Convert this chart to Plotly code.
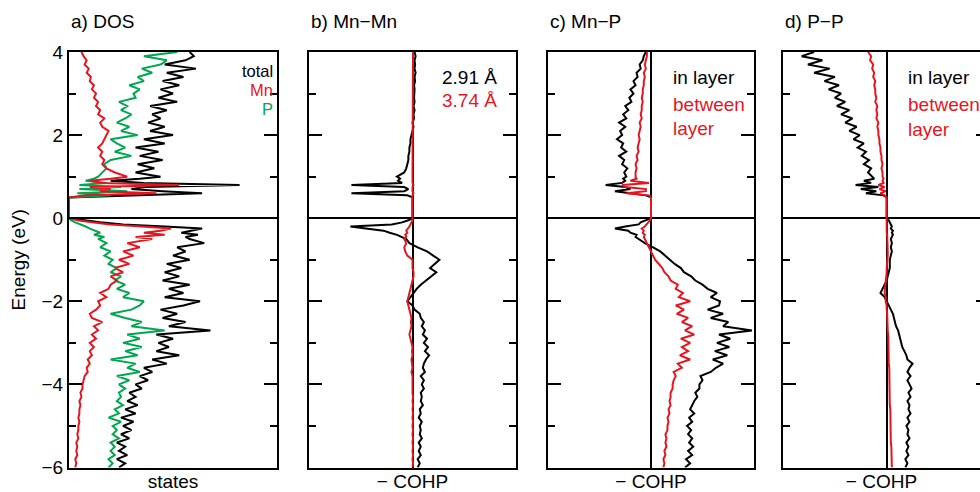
import plotly.graph_objects as go

W, H = 980, 492

# energy grid (eV)
E = [-6.0, -5.9, -5.8, -5.7, -5.6, -5.5, -5.4, -5.3, -5.2, -5.1,
     -5.0, -4.9, -4.8, -4.7, -4.6, -4.5, -4.4, -4.3, -4.2, -4.1,
     -4.0, -3.9, -3.8, -3.7, -3.6, -3.5, -3.4, -3.3, -3.2, -3.1,
     -3.0, -2.9, -2.8, -2.7, -2.6, -2.5, -2.4, -2.3, -2.2, -2.1,
     -2.0, -1.9, -1.8, -1.7, -1.6, -1.5, -1.4, -1.3, -1.2, -1.1,
     -1.0, -0.9, -0.8, -0.7, -0.6, -0.5,
     -0.45, -0.4, -0.35, -0.3, -0.25, -0.2, -0.15, -0.1, -0.05, 0.0,
     0.5, 0.55, 0.6, 0.65, 0.7, 0.75, 0.8, 0.85, 0.9, 0.95, 1.0,
     1.1, 1.2, 1.3, 1.4, 1.5, 1.6, 1.7, 1.8, 1.9, 2.0,
     2.1, 2.2, 2.3, 2.4, 2.5, 2.6, 2.7, 2.8, 2.9, 3.0,
     3.1, 3.2, 3.3, 3.4, 3.5, 3.6, 3.7, 3.8, 3.9, 4.0]

# a) DOS (states, arbitrary units)
dos_total = [2.4, 2.7, 2.3, 2.8, 2.4, 2.7, 2.3, 2.9, 2.5, 3.0,
             2.6, 3.1, 2.5, 3.2, 2.7, 3.3, 2.8, 3.2, 2.9, 3.5,
             3.2, 3.8, 3.4, 4.0, 3.6, 4.7, 4.0, 5.3, 4.2, 4.8,
             4.3, 5.0, 4.2, 6.8, 4.8, 5.6, 4.5, 5.2, 4.4, 5.5,
             6.3, 4.6, 5.5, 4.8, 5.8, 4.5, 5.3, 4.6, 5.4, 4.7,
             5.8, 5.0, 5.6, 5.2, 6.5, 5.8,
             5.6, 6.2, 5.4, 6.0, 6.4, 4.6, 2.6, 1.5, 0.6, 0.0,
             0.0, 3.0, 6.4, 4.5, 3.0, 3.7, 8.2, 3.6, 2.0, 3.4, 4.4,
             3.2, 4.1, 3.3, 4.5, 3.4, 4.3, 3.2, 4.6, 3.6, 5.0,
             3.9, 4.6, 3.8, 4.4, 4.0, 4.7, 3.9, 5.2, 4.3, 5.0,
             4.4, 5.3, 4.5, 5.5, 4.7, 6.1, 4.6, 5.6, 6.0, 5.8]
dos_mn = [0.3, 0.35, 0.3, 0.4, 0.35, 0.4, 0.35, 0.45, 0.4, 0.45,
          0.45, 0.5, 0.45, 0.5, 0.5, 0.55, 0.5, 0.6, 0.55, 0.65,
          0.65, 0.7, 0.75, 0.9, 0.85, 1.0, 0.9, 1.1, 1.0, 1.2,
          1.0, 1.3, 1.1, 1.4, 1.2, 1.6, 1.1, 1.0, 1.3, 1.5,
          1.4, 1.8, 1.5, 1.9, 2.0, 2.3, 2.0, 2.6, 2.2, 2.9,
          2.4, 3.1, 2.6, 3.4, 2.8, 4.0,
          3.2, 4.6, 3.6, 4.4, 4.9, 3.5, 2.0, 1.1, 0.4, 0.0,
          0.0, 0.8, 4.2, 1.5, 2.0, 1.0, 5.3, 1.6, 1.0, 2.0, 2.8,
          2.2, 1.8, 1.6, 1.7, 1.5, 1.6, 1.4, 1.6, 1.7, 1.8,
          1.9, 1.6, 1.5, 1.7, 1.4, 1.5, 1.3, 1.4, 1.2, 1.3,
          1.1, 1.2, 1.0, 1.05, 0.85, 0.95, 0.75, 0.85, 0.7, 0.6]
dos_p = [1.9, 2.1, 1.9, 2.2, 2.0, 2.2, 2.0, 2.4, 2.1, 2.3,
         2.1, 2.5, 1.9, 2.4, 2.2, 2.6, 2.3, 2.5, 2.4, 2.7,
         2.4, 2.9, 2.3, 3.4, 2.8, 3.2, 2.0, 3.3, 2.7, 3.5,
         2.6, 3.4, 2.8, 4.6, 3.0, 3.5, 2.7, 2.0, 3.0, 3.4,
         3.6, 2.6, 2.9, 2.3, 2.7, 2.2, 2.5, 2.0, 2.3, 1.9,
         2.1, 1.7, 2.0, 1.5, 1.8, 1.4,
         1.7, 1.2, 1.5, 1.2, 1.0, 0.8, 0.5, 0.3, 0.1, 0.0,
         0.0, 2.0, 0.4, 2.8, 0.5, 2.5, 0.5, 1.8, 0.8, 1.2, 1.4,
         1.6, 1.8, 1.7, 2.0, 3.0, 2.2, 2.7, 2.3, 2.0, 3.3,
         2.5, 2.9, 2.3, 2.7, 3.0, 2.5, 2.8, 2.4, 3.2, 3.1,
         3.4, 2.9, 3.6, 3.3, 4.0, 3.5, 4.4, 4.7, 3.6, 5.2]

# b) Mn-Mn -COHP
mnmn_291 = [0.05, 0.07, 0.05, 0.08, 0.06, 0.08, 0.06, 0.09, 0.07, 0.08,
            0.07, 0.09, 0.06, 0.08, 0.07, 0.10, 0.08, 0.09, 0.08, 0.11,
            0.09, 0.11, 0.08, 0.12, 0.10, 0.11, 0.13, 0.16, 0.12, 0.15,
            0.11, 0.14, 0.10, 0.12, 0.09, 0.11, 0.08, 0.07, 0.02, 0.0,
            -0.05, -0.02, 0.01, 0.04, 0.08, 0.13, 0.18, 0.23, 0.17, 0.21,
            0.26, 0.20, 0.14, 0.05, -0.03, -0.06,
            -0.10, -0.15, -0.22, -0.28, -0.45, -0.60, -0.20, -0.10, -0.04, 0.0,
            0.0, -0.05, -0.59, -0.08, -0.04, -0.08, -0.59, -0.10, -0.14, -0.12, -0.15,
            -0.08, -0.06, -0.05, -0.04, -0.04, -0.03, -0.03, -0.02, -0.02, -0.01,
            0.0, 0.01, 0.0, 0.015, 0.01, 0.02, 0.01, 0.02, 0.015, 0.02,
            0.02, 0.015, 0.025, 0.02, 0.03, 0.02, 0.025, 0.02, 0.03, 0.02]
mnmn_374 = [0.0, 0.005, 0.0, 0.005, 0.0, 0.005, 0.0, 0.005, 0.0, 0.005,
            0.0, 0.005, 0.0, 0.005, 0.0, 0.005, 0.0, 0.005, 0.0, 0.0,
            0.0, -0.005, 0.0, -0.01, 0.0, -0.005, -0.01, 0.0, -0.005, 0.0,
            -0.01, -0.02, -0.03, -0.02, -0.01, -0.015, -0.01, -0.02, -0.03, -0.04,
            -0.05, -0.04, -0.03, -0.02, -0.01, 0.0, 0.01, 0.01, 0.0, 0.0,
            0.0, -0.05, -0.07, -0.08, -0.06, -0.08,
            -0.06, -0.07, -0.05, -0.06, -0.04, -0.03, -0.02, -0.01, 0.0, 0.0,
            0.0, 0.0, 0.01, 0.0, 0.0, 0.0, 0.01, 0.0, 0.0, 0.0, 0.0,
            0.0, 0.005, 0.0, 0.005, 0.0, 0.005, 0.0, 0.005, 0.0, 0.005,
            0.0, 0.005, 0.0, 0.005, 0.0, 0.005, 0.0, 0.005, 0.0, 0.005,
            0.0, 0.005, 0.0, 0.005, 0.0, 0.005, 0.0, 0.005, 0.0, 0.005]

# c) Mn-P -COHP
mnp_in = [0.33, 0.38, 0.34, 0.40, 0.36, 0.41, 0.37, 0.40, 0.36, 0.39,
          0.35, 0.40, 0.37, 0.42, 0.38, 0.40, 0.42, 0.45, 0.43, 0.47,
          0.47, 0.50, 0.48, 0.58, 0.63, 0.70, 0.60, 0.74, 0.62, 0.76,
          0.64, 0.77, 0.66, 0.98, 0.70, 0.75, 0.58, 0.70, 0.55, 0.66,
          0.67, 0.58, 0.64, 0.55, 0.50, 0.43, 0.39, 0.32, 0.29, 0.23,
          0.18, 0.14, 0.09, 0.02, -0.06, -0.12,
          -0.15, -0.14, -0.20, -0.22, -0.35, -0.25, -0.12, -0.10, -0.05, 0.0,
          0.0, -0.05, -0.20, -0.35, -0.20, -0.25, -0.44, -0.28, -0.25, -0.27, -0.24,
          -0.26, -0.23, -0.28, -0.26, -0.31, -0.24, -0.29, -0.27, -0.33, -0.28,
          -0.30, -0.25, -0.31, -0.24, -0.27, -0.22, -0.25, -0.19, -0.21, -0.17,
          -0.20, -0.15, -0.17, -0.13, -0.14, -0.10, -0.11, -0.08, -0.07, -0.05]
mnp_between = [0.12, 0.13, 0.12, 0.14, 0.13, 0.15, 0.14, 0.15, 0.14, 0.16,
               0.16, 0.17, 0.16, 0.18, 0.17, 0.19, 0.18, 0.19, 0.19, 0.21,
               0.21, 0.22, 0.24, 0.22, 0.30, 0.26, 0.38, 0.28, 0.36, 0.30,
               0.38, 0.29, 0.42, 0.33, 0.40, 0.30, 0.36, 0.25, 0.32, 0.24,
               0.38, 0.27, 0.31, 0.24, 0.26, 0.19, 0.17, 0.13, 0.11, 0.07,
               0.04, 0.02, 0.0, -0.02, -0.04, -0.06,
               -0.07, -0.06, -0.08, -0.07, -0.09, -0.06, -0.04, -0.03, -0.01, 0.0,
               0.0, -0.02, -0.24, -0.05, -0.05, -0.25, -0.28, -0.02, -0.20, -0.14, -0.15,
               -0.15, -0.14, -0.15, -0.13, -0.14, -0.12, -0.13, -0.12, -0.11, -0.12,
               -0.11, -0.10, -0.11, -0.09, -0.10, -0.09, -0.09, -0.08, -0.09, -0.08,
               -0.08, -0.07, -0.07, -0.06, -0.07, -0.05, -0.06, -0.05, -0.04, -0.04]

# d) P-P -COHP
pp_in = [0.18, 0.20, 0.18, 0.21, 0.19, 0.21, 0.19, 0.22, 0.20, 0.21,
         0.19, 0.22, 0.20, 0.23, 0.21, 0.22, 0.20, 0.23, 0.21, 0.24,
         0.22, 0.20, 0.23, 0.20, 0.22, 0.25, 0.20, 0.19, 0.17, 0.15,
         0.14, 0.13, 0.12, 0.11, 0.09, 0.08, 0.07, 0.06, 0.04, 0.02,
         0.0, -0.02, -0.06, -0.04, -0.02, 0.0, 0.01, 0.02, 0.03, 0.03,
         0.03, 0.04, 0.05, 0.04, 0.05, 0.04,
         0.05, 0.06, 0.05, 0.06, 0.04, 0.05, 0.04, 0.03, 0.02, 0.0,
         0.0, -0.03, -0.20, -0.10, -0.25, -0.08, -0.30, -0.15, -0.22, -0.12, -0.14,
         -0.18, -0.15, -0.22, -0.17, -0.24, -0.20, -0.28, -0.22, -0.32, -0.26,
         -0.36, -0.29, -0.40, -0.33, -0.44, -0.36, -0.48, -0.40, -0.50, -0.44,
         -0.56, -0.46, -0.60, -0.50, -0.70, -0.55, -0.76, -0.62, -0.82, -0.70]
pp_between = [0.05, 0.05, 0.05, 0.045, 0.045, 0.045, 0.04, 0.04, 0.04, 0.04,
              0.04, 0.04, 0.035, 0.035, 0.035, 0.03, 0.03, 0.03, 0.03, 0.03,
              0.03, 0.03, 0.025, 0.025, 0.025, 0.02, 0.02, 0.02, 0.02, 0.02,
              0.02, 0.015, 0.015, 0.01, 0.01, 0.01, 0.005, 0.005, 0.0, 0.0,
              -0.01, -0.01, -0.02, -0.015, -0.01, -0.005, 0.0, 0.0, 0.0, 0.005,
              0.005, 0.01, 0.01, 0.01, 0.005, 0.005,
              0.005, 0.005, 0.0, 0.0, 0.0, 0.0, 0.0, 0.0, 0.0, 0.0,
              0.0, -0.02, -0.06, -0.01, -0.07, -0.02, -0.08, -0.03, -0.04, -0.03, -0.04,
              -0.04, -0.05, -0.04, -0.05, -0.05, -0.06, -0.06, -0.07, -0.07, -0.08,
              -0.08, -0.09, -0.08, -0.10, -0.09, -0.10, -0.09, -0.11, -0.10, -0.11,
              -0.11, -0.12, -0.11, -0.13, -0.12, -0.14, -0.13, -0.16, -0.15, -0.18]

for arr in (dos_total, dos_mn, dos_p, mnmn_291, mnmn_374, mnp_in,
            mnp_between, pp_in, pp_between):
    assert len(arr) == len(E), len(arr)

BLACK = "#000000"
RED = "#e3161f"
GREEN = "#00a650"
FONT = "Liberation Sans, Arial, sans-serif"
FS = 19


def px(x):
    return x / W


def py(y):
    return 1 - y / H


fig = go.Figure()

LW = 2.0
# panel a
fig.add_trace(go.Scatter(x=dos_total, y=E, mode="lines", line=dict(color=BLACK, width=LW), xaxis="x", yaxis="y"))
fig.add_trace(go.Scatter(x=dos_p, y=E, mode="lines", line=dict(color=GREEN, width=LW), xaxis="x", yaxis="y"))
fig.add_trace(go.Scatter(x=dos_mn, y=E, mode="lines", line=dict(color=RED, width=LW), xaxis="x", yaxis="y"))
# panel b
fig.add_trace(go.Scatter(x=mnmn_291, y=E, mode="lines", line=dict(color=BLACK, width=LW), xaxis="x2", yaxis="y2"))
fig.add_trace(go.Scatter(x=mnmn_374, y=E, mode="lines", line=dict(color=RED, width=LW), xaxis="x2", yaxis="y2"))
# panel c
fig.add_trace(go.Scatter(x=mnp_in, y=E, mode="lines", line=dict(color=BLACK, width=LW), xaxis="x3", yaxis="y3"))
fig.add_trace(go.Scatter(x=mnp_between, y=E, mode="lines", line=dict(color=RED, width=LW), xaxis="x3", yaxis="y3"))
# panel d
fig.add_trace(go.Scatter(x=pp_in, y=E, mode="lines", line=dict(color=BLACK, width=LW), xaxis="x4", yaxis="y4"))
fig.add_trace(go.Scatter(x=pp_between, y=E, mode="lines", line=dict(color=RED, width=LW), xaxis="x4", yaxis="y4"))
# invisible carrier for the right-hand tick stubs of panel d (its frame runs past the page edge)
fig.add_trace(go.Scatter(x=pp_in, y=E, mode="lines", line=dict(width=0), opacity=0,
                         hoverinfo="skip", xaxis="x4", yaxis="y5"))

ydom = [py(467.5), py(52)]
doms = [(69, 277), (309, 516), (548, 754), (783, 980)]
xranges = [[0, 10], [-1.0, 1.0], [-1.0, 1.0], [-1.0, 0.9]]
xtitles = ["states", "\u2212 COHP", "\u2212 COHP", "\u2212 COHP"]

layout = dict(
    width=W, height=H, margin=dict(l=0, r=0, t=0, b=0),
    paper_bgcolor="white", plot_bgcolor="white", showlegend=False,
    font=dict(family=FONT, size=FS, color=BLACK),
)
for i in range(4):
    sfx = "" if i == 0 else str(i + 1)
    layout["xaxis" + sfx] = dict(
        domain=[px(doms[i][0]), px(doms[i][1])], range=xranges[i],
        anchor="y" + sfx, showline=True, linecolor=BLACK, linewidth=2,
        mirror=True, ticks="", showticklabels=False, showgrid=False,
        zeroline=(i > 0), zerolinecolor=BLACK, zerolinewidth=1.5,
        title=dict(text=xtitles[i], font=dict(size=FS), standoff=7),
        automargin=False, fixedrange=True,
    )
    layout["yaxis" + sfx] = dict(
        domain=ydom, range=[-6, 4], anchor="x" + sfx,
        showline=True, linecolor=BLACK, linewidth=2,
        mirror=("ticks" if i < 3 else False),
        ticks="inside", ticklen=13, tickwidth=2, tickcolor=BLACK,
        dtick=2, tick0=0,
        minor=dict(dtick=1, ticklen=7, tickwidth=2, ticks="inside", tickcolor=BLACK),
        showticklabels=(i == 0), tickfont=dict(size=FS),
        showgrid=False, zeroline=True, zerolinecolor=BLACK, zerolinewidth=1.5,
        automargin=False, fixedrange=True,
        title=dict(text=("Energy (eV)" if i == 0 else ""), font=dict(size=FS), standoff=11),
    )
layout["yaxis5"] = dict(
    domain=ydom, range=[-6, 4], overlaying="y4", side="right", anchor="free",
    position=1.0, showline=False, ticks="inside", ticklen=4, tickwidth=2,
    tickcolor=BLACK, dtick=2, tick0=0, showticklabels=False, showgrid=False,
    zeroline=False, automargin=False, fixedrange=True,
)
fig.update_layout(**layout)

ann = []
titles = ["a) DOS", "b) Mn\u2212Mn", "c) Mn\u2212P", "d) P\u2212P"]
for i, t in enumerate(titles):
    ann.append(dict(text=t, x=px(doms[i][0]), y=py(22), xref="paper", yref="paper",
                    xanchor="left", yanchor="middle", showarrow=False))

LFS = 16.5
ann += [
    dict(text="total", x=px(275), y=py(71), xanchor="right", font=dict(color=BLACK, size=LFS)),
    dict(text="Mn", x=px(275), y=py(90), xanchor="right", font=dict(color=RED, size=LFS)),
    dict(text="P", x=px(275), y=py(109), xanchor="right", font=dict(color=GREEN, size=LFS)),
    dict(text="2.91 \u00c5", x=px(440), y=py(77), xanchor="left", font=dict(color=BLACK)),
    dict(text="3.74 \u00c5", x=px(440), y=py(100), xanchor="left", font=dict(color=RED)),
    dict(text="in layer", x=px(671), y=py(77), xanchor="left", font=dict(color=BLACK)),
    dict(text="between", x=px(671), y=py(104), xanchor="left", font=dict(color=RED)),
    dict(text="layer", x=px(671), y=py(128), xanchor="left", font=dict(color=RED)),
    dict(text="in layer", x=px(906), y=py(77), xanchor="left", font=dict(color=BLACK)),
    dict(text="between", x=px(906), y=py(105), xanchor="left", font=dict(color=RED)),
    dict(text="layer", x=px(906), y=py(129), xanchor="left", font=dict(color=RED)),
]
for a in ann[4:]:
    a.update(xref="paper", yref="paper", yanchor="middle", showarrow=False)
fig.update_layout(annotations=ann)

fig.write_html("out.html")
